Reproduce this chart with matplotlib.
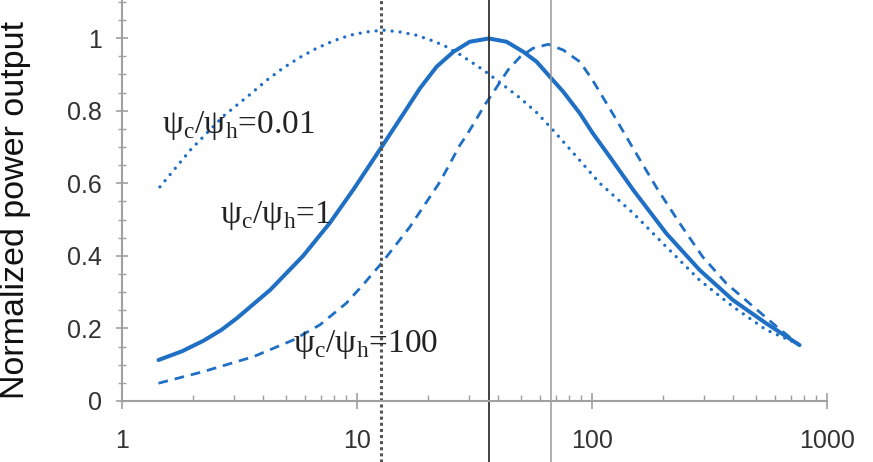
import matplotlib
matplotlib.use("Agg")
from matplotlib import pyplot as plt
from matplotlib.ticker import MultipleLocator, LogLocator, NullFormatter

plt.rcParams['font.family'] = ['Liberation Sans', 'DejaVu Sans']
plt.rcParams['mathtext.fontset'] = 'custom'
plt.rcParams['mathtext.rm'] = 'Liberation Serif'

# psi_c/psi_h = 1 (solid)
x_one = [1.43, 1.8, 2.22, 2.65, 3.08, 4.27, 5.9, 7.67, 9.66, 12.73, 15.7, 18.5, 21.8, 25.7,
         30.2, 36.4, 43.3, 51.1, 58.1, 66.3, 75.5, 88.7, 101, 119, 150, 207,
         287, 398, 551, 764]
y_one = [0.113, 0.137, 0.166, 0.196, 0.228, 0.306, 0.40, 0.491, 0.583, 0.70, 0.79, 0.861,
         0.921, 0.962, 0.99, 0.999, 0.99, 0.962, 0.935, 0.893, 0.852, 0.793, 0.737, 0.673,
         0.581, 0.462, 0.361, 0.278, 0.214, 0.154]

# psi_c/psi_h = 100 (dashed)
x_hund = [1.43, 2.22, 3.62, 5.35, 6.96, 9.02, 10.6, 12.73, 16.8, 22.6, 27.4, 29.1,
          31.1, 34.9, 38.6, 43.9, 49.4, 56.1, 65.2, 75.5, 88.7, 99.5, 111, 123,
          138, 150, 189, 236, 296, 373, 468, 610, 764]
y_hund = [0.049, 0.081, 0.122, 0.168, 0.21, 0.27, 0.32, 0.38, 0.48, 0.605, 0.705, 0.73,
          0.76, 0.815, 0.857, 0.912, 0.948, 0.972, 0.983, 0.967, 0.935, 0.889, 0.838, 0.79,
          0.735, 0.695, 0.586, 0.49, 0.397, 0.324, 0.269, 0.205, 0.154]

# psi_c/psi_h = 0.01 (dotted)
x_hund_inv = [1.45, 1.95, 2.70, 3.51, 4.13, 4.86, 5.72, 6.73, 7.92, 9.33, 10.98, 12.94,
              15.2, 17.9, 21.1, 23.7, 27.4, 34.5, 40.5, 49.4, 58.1, 67.3, 86, 108,
              150, 207, 287, 398, 551, 742]
y_hund_inv = [0.59, 0.691, 0.785, 0.845, 0.884, 0.918, 0.947, 0.972, 0.992, 1.008, 1.017, 1.022,
              1.017, 1.008, 0.992, 0.978, 0.955, 0.912, 0.878, 0.835, 0.795, 0.751, 0.673, 0.60,
              0.517, 0.425, 0.333, 0.26, 0.196, 0.159]

# optimum positions (vertical markers)
peak_x = [12.7, 36.6, 66.7]

y_ticks = [0, 0.2, 0.4, 0.6, 0.8, 1.0]
y_labels = ['0', '0.2', '0.4', '0.6', '0.8', '1']
x_ticks = [1, 10, 100, 1000]
x_labels = ['1', '10', '100', '1000']

blue = '#1f6fc5'
axis_col = '#a0a0a0'

fig = plt.figure(figsize=(8.73, 4.62), dpi=100)
ax = fig.add_axes([122 / 873, 1 - 401 / 462, 705 / 873, 401 / 462])

ax.plot(x_one, y_one, color=blue, lw=2.9, solid_capstyle='round', solid_joinstyle='round')
ax.plot(x_hund, y_hund, color=blue, lw=2.0, linestyle=(0, (3.5, 2.5)))
ax.plot(x_hund_inv, y_hund_inv, color=blue, lw=2.4, linestyle=(0, (0.01, 2.4)),
        dash_capstyle='round')

ymin = -61 / 401
ax.axvline(peak_x[0], ymin=ymin, ymax=1, color='#555555', lw=2.2,
           linestyle=(0, (1, 1)), clip_on=False)
ax.axvline(peak_x[1], ymin=ymin, ymax=1, color='#333333', lw=1.3, clip_on=False)
ax.axvline(peak_x[2], ymin=ymin, ymax=1, color='#999999', lw=1.1, clip_on=False)

ax.set_xscale('log')
ax.set_xlim(1, 1000)
ax.set_ylim(0, 1.105)

for s in ['top', 'right']:
    ax.spines[s].set_visible(False)
for s in ['left', 'bottom']:
    ax.spines[s].set_color(axis_col)
    ax.spines[s].set_linewidth(1.5)

ax.set_yticks(y_ticks, y_labels)
ax.yaxis.set_minor_locator(MultipleLocator(0.05))
ax.set_xticks(x_ticks, x_labels)
ax.xaxis.set_minor_locator(LogLocator(base=10, subs=range(2, 10)))
ax.xaxis.set_minor_formatter(NullFormatter())

ax.tick_params(axis='y', which='major', direction='inout', length=9, width=1.2,
               color=axis_col, labelsize=18, labelcolor='#333333', pad=10)
ax.tick_params(axis='y', which='minor', direction='inout', length=6, width=1.0,
               color=axis_col)
ax.tick_params(axis='x', which='major', direction='inout', length=12, width=1.2,
               color=axis_col, labelsize=18, labelcolor='#333333', pad=14)
ax.tick_params(axis='x', which='minor', direction='in', length=4, width=1.0,
               color=axis_col)

lab = dict(family=['Liberation Serif', 'DejaVu Serif'], fontsize=24, color='#222222',
           transform=ax.transAxes, va='baseline', ha='left')
ax.text(0.057, 0.668, r'ψ$_{\mathrm{c}}$/ψ$_{\mathrm{h}}$=0.01', **lab)
ax.text(0.139, 0.444, r'ψ$_{\mathrm{c}}$/ψ$_{\mathrm{h}}$=1', **lab)
ax.text(0.243, 0.122, r'ψ$_{\mathrm{c}}$/ψ$_{\mathrm{h}}$=100', **lab)

fig.text(0.0, 0.545, 'Normalized power output', rotation=90, ha='left', va='center',
         fontsize=24.5, color='#111111')

fig.savefig('out.png', dpi=100)
